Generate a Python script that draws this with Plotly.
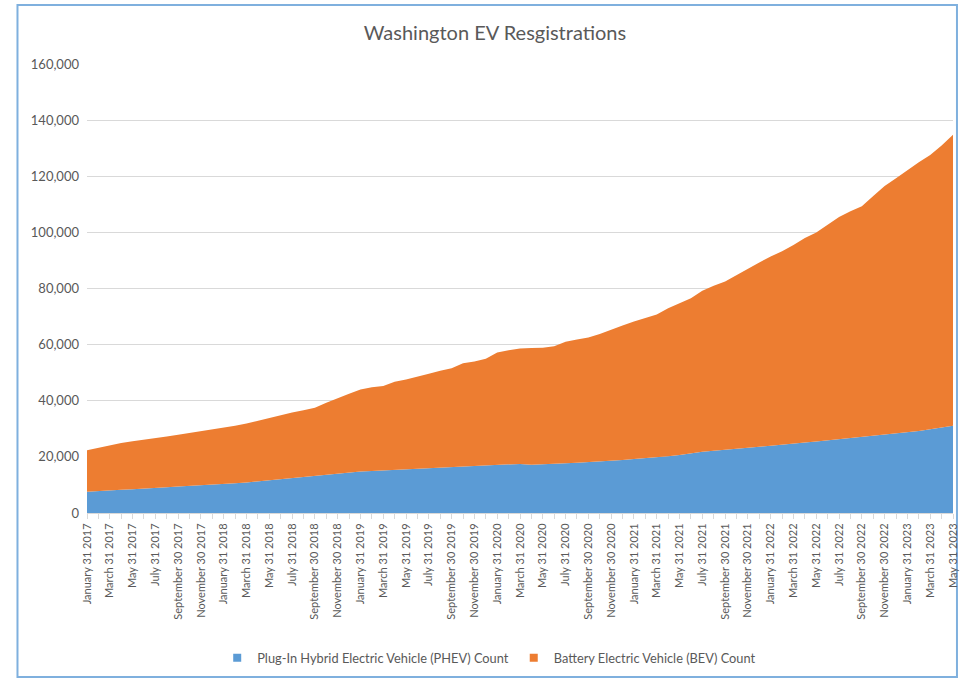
import plotly.graph_objects as go

# ---- data ----
month_names = ["January", "February", "March", "April", "May", "June", "July",
               "August", "September", "October", "November", "December"]
month_end_days = [31, 28, 31, 30, 31, 30, 31, 31, 30, 31, 30, 31]
years = [2017, 2018, 2019, 2020, 2021, 2022, 2023]

categories = []
for yr in years:
    for m in range(12):
        d = month_end_days[m]
        if m == 1 and yr % 4 == 0:
            d = 29
        categories.append(f"{month_names[m]} {d} {yr}")
        if yr == 2023 and m == 4:
            break

phev = [7600, 7900, 8100, 8300, 8500, 8800, 9000, 9200, 9400, 9600,
        9800, 10000, 10300, 10600, 10900, 11300, 11700, 12100, 12500, 12900,
        13300, 13700, 14100, 14500, 14800, 15000, 15200, 15400, 15600, 15900,
        16100, 16300, 16500, 16700, 16900, 17100, 17300, 17400, 17500, 17200,
        17300, 17500, 17700, 17900, 18100, 18300, 18600, 18900, 19200, 19500,
        19800, 20200, 20700, 21300, 21800, 22200, 22500, 22900, 23300, 23600,
        24000, 24300, 24700, 25100, 25500, 25900, 26400, 26800, 27200, 27500,
        27800, 28200, 28600, 29200, 29800, 30500, 31100]

bev = [14800, 15400, 16100, 16600, 17100, 17300, 17700, 18100, 18500, 18900,
       19300, 19700, 20100, 20500, 21000, 21600, 22300, 22900, 23300, 23700,
       24200, 25600, 26900, 28000, 29200, 29800, 30100, 31400, 32000, 32600,
       33500, 34400, 35100, 36700, 37100, 37900, 39900, 40600, 41100, 41600,
       41600, 41900, 43300, 43900, 44400, 45500, 46800, 47900, 49000, 50000,
       50900, 52800, 54000, 55200, 57400, 58800, 60000, 61900, 63900, 65700,
       67400, 69000, 70800, 72900, 74500, 76700, 79100, 80700, 82100, 85500,
       88700, 91100, 93600, 95800, 97800, 100500, 103700]

tick_labels = [c if i % 2 == 0 else "" for i, c in enumerate(categories)]
y_ticks = [0, 20000, 40000, 60000, 80000, 100000, 120000, 140000, 160000]

phev_name = "Plug-In Hybrid Electric Vehicle (PHEV) Count"
bev_name = "Battery Electric Vehicle (BEV) Count"
blue = "#5B9BD5"
orange = "#ED7D31"
txt = "#595959"
grid = "#D9D9D9"
font_family = "Lato, 'Open Sans', sans-serif"

fig = go.Figure()
fig.add_trace(go.Scatter(x=categories, y=phev, name=phev_name, stackgroup="one",
                         mode="lines", line=dict(width=0, color=blue),
                         fillcolor=blue, showlegend=False))
fig.add_trace(go.Scatter(x=categories, y=bev, name=bev_name, stackgroup="one",
                         mode="lines", line=dict(width=0, color=orange),
                         fillcolor=orange, showlegend=False))
# legend entries with square swatches
for nm, col in [(phev_name, blue), (bev_name, orange)]:
    fig.add_trace(go.Scatter(x=[categories[0]], y=[None], name=nm, mode="markers",
                             marker=dict(symbol="square", size=8, color=col),
                             showlegend=True, hoverinfo="skip"))

W, H = 965, 680
ml, mr, mt, mb = 87, 6, 64, 167
pw, ph = W - ml - mr, H - mt - mb


def px_to_paper_x(px):
    return (px - ml) / pw


def px_to_paper_y(py):
    return (H - mb - py) / ph


fig.update_layout(
    width=W, height=H,
    margin=dict(l=ml, r=mr, t=mt, b=mb),
    paper_bgcolor="white", plot_bgcolor="white",
    font=dict(family=font_family, color=txt, size=12),
    title=dict(text="Washington EV Resgistrations", x=495 / W, xref="container",
               xanchor="center", y=1 - 33 / H, yref="container", yanchor="middle",
               font=dict(size=20, color=txt, family=font_family)),
    showlegend=True,
    legend=dict(orientation="h", x=px_to_paper_x(492), xanchor="center",
                y=px_to_paper_y(658), yanchor="middle", traceorder="normal",
                font=dict(size=12.8, color=txt),
                itemwidth=30, bgcolor="rgba(0,0,0,0)"),
    xaxis=dict(type="category", categoryorder="array", categoryarray=categories,
               range=[0, len(categories) - 1], tickmode="array",
               tickvals=categories, ticktext=tick_labels, tickangle=-90,
               ticks="outside", ticklen=5, tickcolor=grid, showgrid=False,
               showline=True, linecolor=grid, linewidth=1,
               tickfont=dict(size=11, color=txt), zeroline=False),
    yaxis=dict(range=[0, 160000], tickmode="array", tickvals=y_ticks,
               tickformat=",", showgrid=True, gridcolor=grid, gridwidth=1,
               zeroline=False, showline=False, ticks="",
               ticklabelstandoff=7, tickfont=dict(size=13, color=txt)),
    shapes=[dict(type="rect", xref="paper", yref="paper",
                 x0=px_to_paper_x(17), x1=px_to_paper_x(963),
                 y0=px_to_paper_y(677), y1=px_to_paper_y(5),
                 line=dict(color="#7FB0DE", width=2), fillcolor="rgba(0,0,0,0)",
                 layer="below")],
)

fig.write_html("out.html",
               config={"displayModeBar": False},
               post_script="document.body.style.margin='0px';"
                           "document.body.style.overflow='hidden';")
